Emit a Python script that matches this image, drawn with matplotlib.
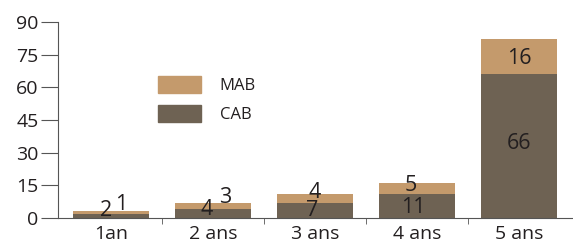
import numpy as np
import matplotlib.pyplot as plt
import matplotlib.patches as mpatches

categories = ['1an', '2 ans', '3 ans', '4 ans', '5 ans']
cab = [2, 4, 7, 11, 66]
mab = [1, 3, 4, 5, 16]

# label positions (x offset, y in data units) for the crowded small bars
cab_lbl = [(-0.05, 3.2), (-0.06, 3.7), (-0.03, 3.2), (-0.04, 5.0), (0, 34.4)]
mab_lbl = [(0.1, 6.0), (0.12, 9.4), (0.0, 11.7), (-0.06, 15.1), (0, 73.4)]

c_mab = '#C49A6C'
c_cab = '#6E6253'
c_txt = '#231F20'

plt.rcParams['font.family'] = ['Open Sans', 'DejaVu Sans']

fig = plt.figure(figsize=(5.73, 2.44), dpi=100)
ax = fig.add_axes([0.101, 0.107, 0.899, 0.803])

x = np.arange(len(categories))
ax.bar(x, cab, width=0.75, color=c_cab)
ax.bar(x, mab, width=0.75, bottom=cab, color=c_mab)

for i in range(len(x)):
    ax.text(x[i] + cab_lbl[i][0], cab_lbl[i][1], str(cab[i]), ha='center', va='center',
            fontsize=15.5, color=c_txt)
    ax.text(x[i] + mab_lbl[i][0], mab_lbl[i][1], str(mab[i]), ha='center', va='center',
            fontsize=15.5, color=c_txt)

ax.set_xlim(-0.52, 4.53)
ax.set_ylim(0, 90)
ax.set_yticks([0, 15, 30, 45, 60, 75, 90])
ax.set_xticks(x)
ax.set_xticklabels(categories)
ax.set_xticks(np.arange(0.5, 4.5, 1), minor=True)
ax.tick_params(axis='x', which='major', length=0, labelsize=14, colors=c_txt, pad=5)
ax.tick_params(axis='x', which='minor', length=4, color='#555555')
ax.tick_params(axis='y', length=12, labelsize=14, colors=c_txt, pad=2)
ax.tick_params(axis='y', color='#555555')
for s in ['top', 'right']:
    ax.spines[s].set_visible(False)
for s in ['left', 'bottom']:
    ax.spines[s].set_color('#555555')

handles = [mpatches.Patch(color=c_mab, label='MAB'), mpatches.Patch(color=c_cab, label='CAB')]
ax.legend(handles=handles, loc='upper left', bbox_to_anchor=(0.165, 0.8), frameon=False,
          fontsize=12, handlelength=2.6, handleheight=1.2, labelspacing=0.65, handletextpad=1.1,
          labelcolor=c_txt)

fig.savefig('out.png', dpi=100)
